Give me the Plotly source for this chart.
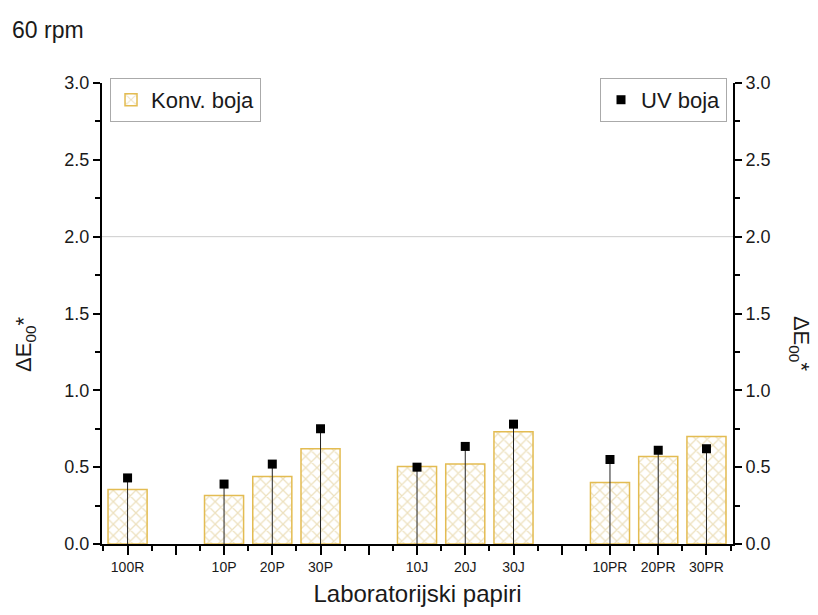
import plotly.graph_objects as go

groups = [["100R"], ["10P", "20P", "30P"], ["10J", "20J", "30J"], ["10PR", "20PR", "30PR"]]
konv_boja = [0.355, 0.315, 0.44, 0.62, 0.505, 0.52, 0.73, 0.40, 0.57, 0.70]
uv_boja = [0.43, 0.39, 0.52, 0.75, 0.50, 0.635, 0.78, 0.55, 0.61, 0.62]
y_ticks = [0.0, 0.5, 1.0, 1.5, 2.0, 2.5, 3.0]

# positions: one empty slot between groups
categories, xpos, all_ticks, all_text = [], [], [], []
p = 0
for gi, g in enumerate(groups):
    if gi > 0:
        all_ticks.append(p); all_text.append("")
        p += 1
    for c in g:
        categories.append(c); xpos.append(p)
        all_ticks.append(p); all_text.append(c)
        p += 1

FONT = "Liberation Sans, Arial, sans-serif"
TXT = "#1a1a1a"
gold = "#e3bc52"

fig = go.Figure()
fig.add_trace(go.Bar(
    x=xpos, y=konv_boja, name="Konv. boja", width=0.81,
    marker=dict(color="white", line=dict(color=gold, width=1.5),
                pattern=dict(shape="x", fgcolor="#dcc380", bgcolor="white", size=8, solidity=0.3)),
    legend="legend",
))
fig.add_trace(go.Scatter(
    x=xpos, y=uv_boja, name="UV boja", mode="markers",
    marker=dict(symbol="square", size=9, color="black"),
    error_y=dict(type="data", symmetric=False, array=[0]*len(uv_boja), arrayminus=uv_boja,
                 width=0, color="#222", thickness=1),
    legend="legend2",
))
fig.add_trace(go.Scatter(x=[xpos[0]], y=[0], yaxis="y2", mode="markers",
                         marker=dict(opacity=0), showlegend=False, hoverinfo="skip"))
fig.add_shape(type="line", xref="paper", x0=0, x1=1, yref="y", y0=2.0, y1=2.0,
              line=dict(color="#cccccc", width=1), layer="below")

axis_font = dict(family=FONT, size=18, color=TXT)
yaxis_common = dict(range=[0, 3.0], tickvals=y_ticks, tickformat=".1f", tickfont=axis_font,
                    ticks="outside", ticklen=7, tickwidth=1.5, tickcolor="black",
                    minor=dict(ticks="outside", ticklen=5, tickwidth=1.5, tickcolor="black", dtick=0.25),
                    showline=True, linecolor="black", linewidth=2, showgrid=False, zeroline=False)
fig.update_layout(
    width=810, height=607,
    margin=dict(l=94, r=85, t=75, b=71),
    plot_bgcolor="white", paper_bgcolor="white",
    font=dict(family=FONT, color=TXT),
    xaxis=dict(range=[-0.53, 12.55], tickvals=all_ticks, ticktext=all_text,
               tickfont=dict(family=FONT, size=14, color=TXT),
               ticks="outside", ticklen=9, tickwidth=1.5, tickcolor="black",
               minor=dict(ticks="outside", ticklen=5, tickwidth=1.5, tickcolor="black", tick0=-0.5, dtick=1),
               showline=True, linecolor="black", linewidth=2, showgrid=False, zeroline=False,
               title=dict(text="Laboratorijski papiri", font=dict(family=FONT, size=24, color=TXT), standoff=11)),
    yaxis=dict(**yaxis_common),
    yaxis2=dict(**yaxis_common, overlaying="y", side="right", matches="y"),
    legend=dict(x=0.0127, y=1.011, xanchor="left", yanchor="top", bgcolor="white",
                bordercolor="#aaaaaa", borderwidth=1, font=dict(family=FONT, size=22, color=TXT)),
    legend2=dict(x=0.9905, y=1.011, xanchor="right", yanchor="top", bgcolor="white",
                 bordercolor="#aaaaaa", borderwidth=1, font=dict(family=FONT, size=22, color=TXT)),
    showlegend=True,
)

fig.add_annotation(text="60 rpm", xref="paper", yref="paper", x=-0.1458, y=1.115, xanchor="left", yanchor="middle",
                   showarrow=False, font=dict(family=FONT, size=23, color=TXT))
fig.add_annotation(text="ΔE<sub>00</sub>*", xref="paper", yref="paper", x=0.0, y=0.434, xanchor="center",
                   yanchor="middle", xshift=-77, textangle=-90, showarrow=False,
                   font=dict(family=FONT, size=22, color=TXT))
fig.add_annotation(text="ΔE<sub>00</sub>*", xref="paper", yref="paper", x=1.0, y=0.434, xanchor="center",
                   yanchor="middle", xshift=67, textangle=90, showarrow=False,
                   font=dict(family=FONT, size=22, color=TXT))

fig.write_html("out.html")
